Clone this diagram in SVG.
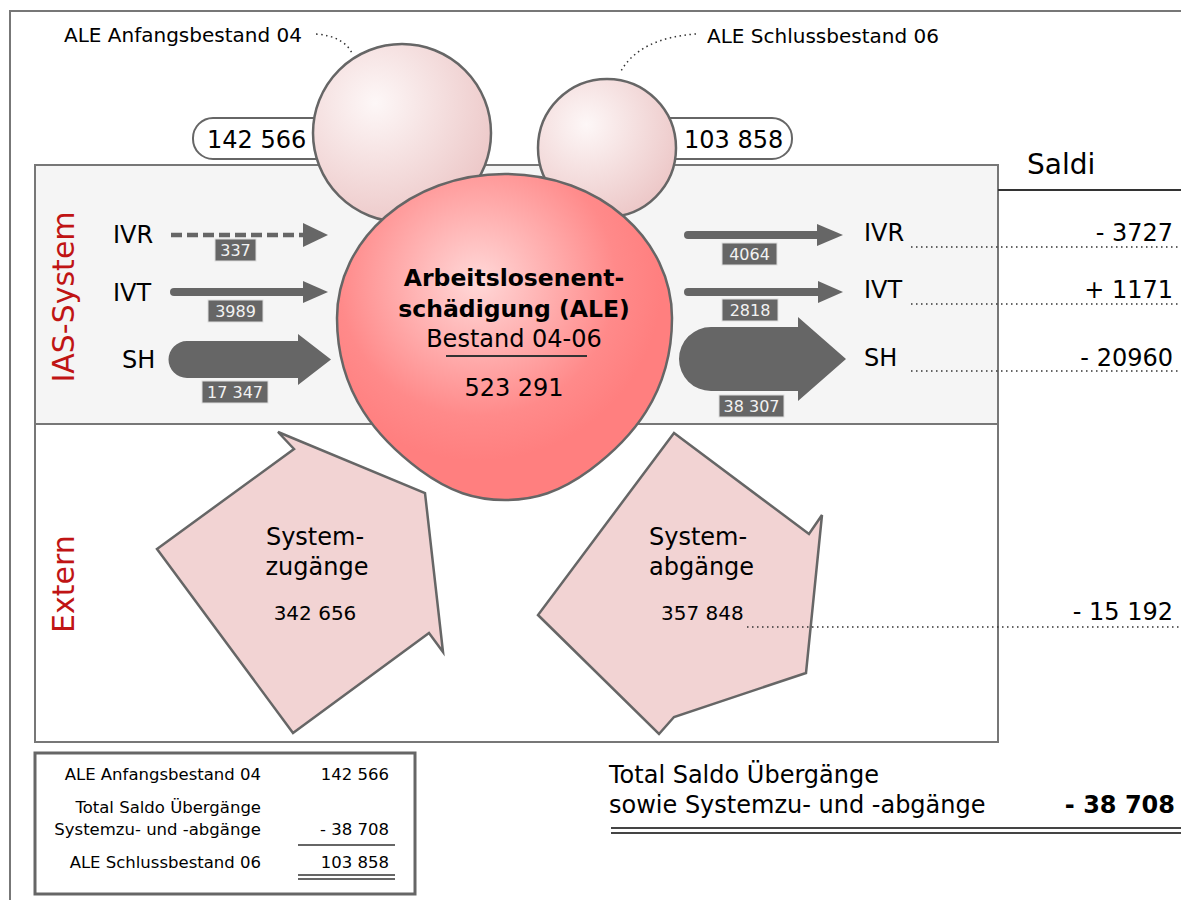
<svg xmlns="http://www.w3.org/2000/svg" width="1181" height="900" viewBox="0 0 1181 900">
<style>
text{font-family:"DejaVu Sans","Noto Sans",sans-serif;fill:#000}
.frame{fill:none;stroke:#777;stroke-width:2}
.box{stroke:#777;stroke-width:2}
.pill{fill:#fff;stroke:#666;stroke-width:2}
.bub{stroke:#666;stroke-width:2.5}
.ext{fill:#f2d3d3;stroke:#666;stroke-width:2.5;stroke-linejoin:miter}
.lbl{fill:#666;stroke:#ddd;stroke-width:1}
.lt{font-size:16px;fill:#f2f2f2;text-anchor:middle}
.ar{fill:#666}
.dot{fill:none;stroke:#333;stroke-width:1.5;stroke-dasharray:1.5 3.5}
.t24{font-size:24px}
.t20{font-size:20px}
.red{fill:#c01414;font-size:30px;text-anchor:middle}
.end{text-anchor:end}
.mid{text-anchor:middle}
.s16{font-size:16.5px}
</style>
<defs>
<radialGradient id="gb" cx="0.35" cy="0.33" r="0.7">
<stop offset="0" stop-color="#fdf7f7"/>
<stop offset="1" stop-color="#edc9c9"/>
</radialGradient>
<radialGradient id="gc" cx="0.42" cy="0.33" r="0.55">
<stop offset="0" stop-color="#ffd8d8"/>
<stop offset="0.75" stop-color="#ff8a8a"/>
<stop offset="1" stop-color="#ff7f7f"/>
</radialGradient>
</defs>

<rect class="frame" x="10" y="11" width="1200" height="1000"/>

<g id="ias-box">
<rect class="box" x="35" y="165" width="963" height="259" fill="#f5f5f5"/>
<text class="red" transform="translate(74,297) rotate(-90)">IAS-System</text>
</g>
<g id="extern-box">
<rect class="box" x="35" y="424" width="963" height="318" fill="#fff"/>
<text class="red" transform="translate(74,584) rotate(-90)">Extern</text>
</g>

<g id="saldi-header">
<text x="1027" y="174" style="font-size:28px">Saldi</text>
<line x1="998" y1="190" x2="1181" y2="190" stroke="#333" stroke-width="2"/>
</g>

<g id="connectors">
<path class="dot" d="M316,34 Q343,36 352,53"/>
<path class="dot" d="M696,34 Q640,38 621,71"/>
<line x1="171" y1="235" x2="304" y2="235" stroke="#666" stroke-width="4.5" stroke-dasharray="11 5"/>
<polygon class="ar" points="303,223 328,235 303,247"/>
<line x1="174" y1="292" x2="305" y2="292" stroke="#666" stroke-width="8" stroke-linecap="round"/>
<polygon class="ar" points="303,281 328,292 303,303"/>
<path class="ar" d="M187,341 H298 V334 L331,359.5 L298,385 V378 H187 A18.5,18.5 0 0 1 187,341 Z"/>
<line x1="688" y1="235" x2="820" y2="235" stroke="#666" stroke-width="8" stroke-linecap="round"/>
<polygon class="ar" points="817,224 843,235 817,246"/>
<line x1="688" y1="292" x2="820" y2="292" stroke="#666" stroke-width="8" stroke-linecap="round"/>
<polygon class="ar" points="818,281 843,292 818,303"/>
<path class="ar" d="M711,327 H798 V317 L846,359 L798,401 V391 H711 A32,32 0 0 1 711,327 Z"/>
<line class="dot" x1="911" y1="247" x2="1181" y2="247"/>
<line class="dot" x1="911" y1="304" x2="1181" y2="304"/>
<line class="dot" x1="911" y1="371" x2="1181" y2="371"/>
</g>

<g id="labels-in">
<text class="t24" x="113" y="243">IVR</text>
<text class="t24" x="113" y="301">IVT</text>
<text class="t24" x="122" y="368">SH</text>
<rect class="lbl" x="215" y="239" width="41" height="22"/><text class="lt" x="235.5" y="256">337</text>
<rect class="lbl" x="208" y="300" width="55" height="22"/><text class="lt" x="235.5" y="317">3989</text>
<rect class="lbl" x="202" y="381" width="66" height="22"/><text class="lt" x="235" y="398">17 347</text>
</g>
<g id="labels-out">
<rect class="lbl" x="722" y="243" width="55" height="22"/><text class="lt" x="749.5" y="260">4064</text>
<rect class="lbl" x="722" y="299" width="56" height="22"/><text class="lt" x="750" y="316">2818</text>
<rect class="lbl" x="719" y="395" width="65" height="22"/><text class="lt" x="751.5" y="412">38 307</text>
<text class="t24" x="864" y="241">IVR</text>
<text class="t24" x="864" y="298">IVT</text>
<text class="t24" x="864" y="366">SH</text>
</g>
<g id="saldi-values">
<text class="t24 end" x="1173" y="241">- 3727</text>
<text class="t24 end" x="1173" y="298">+ 1171</text>
<text class="t24 end" x="1173" y="366">- 20960</text>
<text class="t24 end" x="1173" y="620">- 15 192</text>
</g>

<g id="anfang">
<text class="t20" x="64" y="42">ALE Anfangsbestand 04</text>
<rect class="pill" x="193" y="118" width="230" height="41" rx="20"/>
<text class="t24" x="207" y="148">142 566</text>
<circle class="bub" cx="402" cy="133" r="89" fill="url(#gb)"/>
</g>
<g id="schluss">
<text class="t20" x="707" y="43">ALE Schlussbestand 06</text>
<rect class="pill" x="600" y="118" width="192" height="41" rx="20"/>
<text class="t24" x="684" y="148">103 858</text>
<circle class="bub" cx="607" cy="148" r="69" fill="url(#gb)"/>
</g>

<g id="ale">
<path class="bub" fill="url(#gc)" d="M505,174 C600,174 672,240 672,318 C672,395 630,440 590,470 C560,492 535,500 505,500 C475,500 450,492 420,470 C380,440 337,395 337,318 C337,240 410,174 505,174 Z"/>
<text class="mid" x="514" y="286" style="font-size:23.5px;font-weight:bold">Arbeitslosenent-</text>
<text class="mid" x="514" y="317" style="font-size:23.5px;font-weight:bold">schädigung (ALE)</text>
<text class="mid t24" x="514" y="347">Bestand 04-06</text>
<line x1="446" y1="356" x2="587" y2="356" stroke="#333" stroke-width="2"/>
<text class="mid t24" x="514" y="396">523 291</text>
</g>

<g id="zugaenge">
<polygon class="ext" points="278,432 425,493 443,652 429,633 293,733 157,549 294,449"/>
<text class="t24 mid" x="315" y="545">System-</text>
<text class="t24 mid" x="317" y="575">zugänge</text>
<text class="t20 mid" x="315" y="620">342 656</text>
</g>
<g id="abgaenge">
<polygon class="ext" points="674,433 809,534 822,515 806,673 674,717 659,734 538,615"/>
<text class="t24" x="649" y="545">System-</text>
<text class="t24" x="649" y="575">abgänge</text>
<text class="t20" x="661" y="620">357 848</text>
</g>
<g id="extern-leader">
<line class="dot" x1="747" y1="627" x2="1181" y2="627"/>
</g>

<g id="table">
<rect x="35" y="753" width="380" height="141" fill="#fff" stroke="#666" stroke-width="3"/>
<text class="s16 end" x="261" y="780">ALE Anfangsbestand 04</text>
<text class="s16 end" x="261" y="813">Total Saldo Übergänge</text>
<text class="s16 end" x="261" y="835">Systemzu- und -abgänge</text>
<text class="s16 end" x="261" y="868">ALE Schlussbestand 06</text>
<text class="s16 end" x="389" y="780">142 566</text>
<text class="s16 end" x="389" y="835">- 38 708</text>
<text class="s16 end" x="389" y="868">103 858</text>
<line x1="298" y1="845" x2="395" y2="845" stroke="#333" stroke-width="1.5"/>
<line x1="298" y1="875" x2="395" y2="875" stroke="#333" stroke-width="1.5"/>
<line x1="298" y1="879" x2="395" y2="879" stroke="#333" stroke-width="1.5"/>
</g>

<g id="total">
<text class="t24" x="609" y="783">Total Saldo Übergänge</text>
<text class="t24" x="609" y="813">sowie Systemzu- und -abgänge</text>
<text class="t24 end" x="1175" y="813" style="font-weight:bold">- 38 708</text>
<line x1="611" y1="828" x2="1181" y2="828" stroke="#444" stroke-width="2"/>
<line x1="611" y1="833" x2="1181" y2="833" stroke="#444" stroke-width="2"/>
</g>
</svg>
